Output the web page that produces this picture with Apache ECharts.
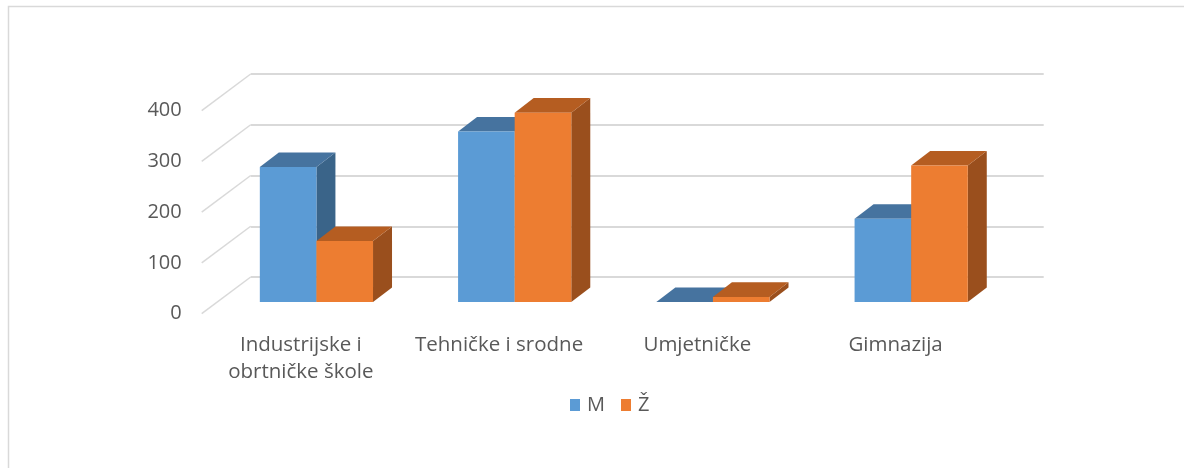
<!DOCTYPE html>
<html>
<head>
<meta charset="utf-8">
<script src="https://cdn.jsdelivr.net/npm/echarts@6/dist/echarts.min.js"></script>
<style>
  html, body { margin: 0; padding: 0; background: #fff; }
  #drew { width: 1184px; height: 468px; }
</style>
</head>
<body>
<div id="drew"></div>
<script>
   var categories = ['Industrijske i\nobrtničke škole', 'Tehničke i srodne', 'Umjetničke', 'Gimnazija'];
   var seriesNames = ['M', 'Ž'];
   var valuesM = [266, 336, 0, 164];
   var valuesZ = [120, 373, 10, 269];
   var yTicks = [0, 100, 200, 300, 400];

   var font = '"Open Sans", "Noto Sans", sans-serif';
   var textColor = '#595959';
   var gridColor = '#d9d9d9';

   // depth offsets of the 3d look (pixels)
   var wallDx = 33.4, wallDy = -25;    // bar plane -> back wall
   var floorDx = -49, floorDy = 36.7;  // back wall -> front edge of floor
   var barDx = 19, barDy = -14.6;      // bar depth
   var barRatio = 0.2855;              // bar width / category width

   var faces = {
       'M': { front: '#5B9BD5', top: '#46739F', side: '#3A6489' },
       'Ž': { front: '#ED7D31', top: '#B55D21', side: '#9A4F1D' }
   };

   function barRenderer(slot, c) {
       return function (params, api) {
           var i = api.value(0), v = api.value(1);
           var b = api.coord([i, 0]);
           var t = api.coord([i, v]);
           var w = api.size([1, 0])[0] * barRatio;
           var x0 = b[0] + slot * w, x1 = x0 + w;
           var yb = b[1], yt = t[1];
           return {
               type: 'group',
               children: [
                   { type: 'polygon', shape: { points: [[x1, yt], [x1 + barDx, yt + barDy], [x1 + barDx, yb + barDy], [x1, yb]] },
                     style: { fill: c.side } },
                   { type: 'polygon', shape: { points: [[x0, yt], [x1, yt], [x1 + barDx, yt + barDy], [x0 + barDx, yt + barDy]] },
                     style: { fill: c.top } },
                   { type: 'rect', shape: { x: x0, y: yt, width: w, height: yb - yt },
                     style: { fill: c.front } }
               ]
           };
       };
   }

   function diagRenderer(params, api) {
       var p = api.coord([0, api.value(1)]);
       var x = p[0] - api.size([1, 0])[0] / 2;
       return {
           type: 'line',
           shape: { x1: x, y1: p[1], x2: x + floorDx, y2: p[1] + floorDy },
           style: { stroke: gridColor, lineWidth: 1.5 }
       };
   }

   var bx = 217.3, by = 99, gw = 793, gh = 203;

   var myChart = echarts.init(document.getElementById('drew'));
   var option = {
       backgroundColor: '#fff',
       animation: false,
       textStyle: { fontFamily: font },
       graphic: [{
           type: 'rect',
           shape: { x: 8.5, y: 6.5, width: 1300, height: 600 },
           style: { fill: 'none', stroke: gridColor, lineWidth: 1.5 },
           silent: true
       }],
       legend: {
           data: [{ name: 'M', icon: 'rect' }, { name: 'Ž', icon: 'rect' }],
           top: 390,
           left: 565,
           itemWidth: 10,
           itemHeight: 12,
           itemGap: 16,
           textStyle: { fontSize: 20, color: textColor, fontFamily: font, padding: [0, 0, 0, 2] }
       },
       grid: [
           { left: bx + wallDx, top: by + wallDy, width: gw, height: gh },
           { left: bx, top: by, width: gw, height: gh },
           { left: bx + wallDx + floorDx, top: by + wallDy + floorDy, width: gw, height: gh }
       ],
       xAxis: [
           { gridIndex: 0, type: 'category', data: categories, show: false },
           { gridIndex: 1, type: 'category', data: categories, show: false },
           { gridIndex: 2, type: 'category', data: categories,
             axisLine: { show: false }, axisTick: { show: false },
             axisLabel: { fontSize: 20.5, color: textColor, fontFamily: font, margin: 18, lineHeight: 27, interval: 0 } }
       ],
       yAxis: [
           { gridIndex: 0, type: 'value', min: 0, max: 400, interval: 100,
             axisLabel: { show: false }, axisLine: { show: false }, axisTick: { show: false },
             splitLine: { lineStyle: { color: gridColor, width: 2 } } },
           { gridIndex: 1, type: 'value', min: 0, max: 400, interval: 100, show: false, splitLine: { show: false } },
           { gridIndex: 2, type: 'value', min: 0, max: 400, interval: 100,
             axisLine: { show: false }, axisTick: { show: false }, splitLine: { show: false },
             axisLabel: { fontSize: 20, color: textColor, fontFamily: font, margin: 20 } }
       ],
       series: [{
           type: 'custom',
           name: 'grid-diagonals',
           xAxisIndex: 0, yAxisIndex: 0,
           renderItem: diagRenderer,
           data: yTicks.map(function (v) { return [0, v]; }),
           silent: true, clip: false, z: 1
       }, {
           type: 'custom',
           name: seriesNames[0],
           xAxisIndex: 1, yAxisIndex: 1,
           itemStyle: { color: faces['M'].front },
           renderItem: barRenderer(-1, faces['M']),
           data: valuesM.map(function (v, i) { return [i, v]; }),
           clip: false, z: 3
       }, {
           type: 'custom',
           name: seriesNames[1],
           xAxisIndex: 1, yAxisIndex: 1,
           itemStyle: { color: faces['Ž'].front },
           renderItem: barRenderer(0, faces['Ž']),
           data: valuesZ.map(function (v, i) { return [i, v]; }),
           clip: false, z: 4
       }]
   };
   myChart.setOption(option);
   window.addEventListener('resize', function () {
       myChart.resize();
   });
</script>
</body>
</html>
